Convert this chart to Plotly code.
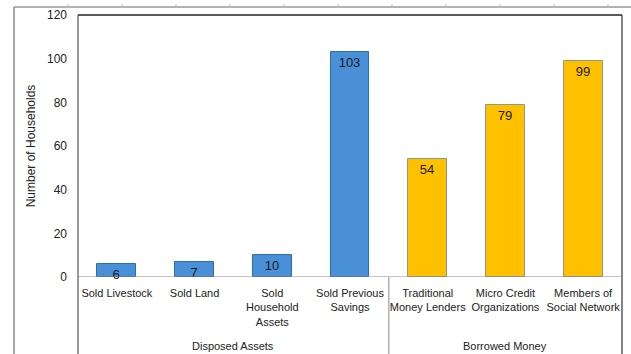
import plotly.graph_objects as go

categories = ["Sold Livestock", "Sold Land", "Sold<br>Household<br>Assets", "Sold Previous<br>Savings",
              "Traditional<br>Money Lenders", "Micro Credit<br>Organizations", "Members of<br>Social Network"]
values = [6, 7, 10, 103, 54, 79, 99]
groups = ["Disposed Assets", "Borrowed Money"]
group_sizes = [4, 3]
y_ticks = [0, 20, 40, 60, 80, 100, 120]

W, H = 631, 354
L, R, T, B = 78, 9, 15, 77
ph = H - T - B

colors = ["#4A90D9"] * group_sizes[0] + ["#FFC000"] * group_sizes[1]
lines = ["#2E6FA8"] * group_sizes[0] + ["#8A9A8A"] * group_sizes[1]
xs = list(range(len(values)))

fig = go.Figure(go.Bar(
    x=xs, y=values, width=0.5,
    marker=dict(color=colors, line=dict(color=lines, width=1)),
    text=[str(v) for v in values], textposition="inside", insidetextanchor="end",
    textangle=0, constraintext="none",
    textfont=dict(family="Liberation Sans, Arial", size=13, color="#1a1a1a"),
    cliponaxis=False,
))

font = dict(family="Liberation Sans, Arial", size=11, color="#222")
fig.update_layout(
    width=W, height=H, margin=dict(l=L, r=R, t=T, b=B),
    paper_bgcolor="white", plot_bgcolor="white", showlegend=False,
    font=font, bargap=0, uniformtext=dict(mode=False),
    xaxis=dict(range=[-0.5, len(values) - 0.5], tickvals=xs, ticktext=categories,
               showgrid=False, zeroline=False, showline=False, ticks="", ticklabelstandoff=8,
               tickfont=font, fixedrange=True),
    yaxis=dict(range=[0, 120], tickvals=y_ticks, showgrid=False, zeroline=False,
               showline=False, ticks="", ticklabelstandoff=10,
               tickfont=dict(family="Liberation Sans, Arial", size=12, color="#222"),
               title=dict(text="Number of Households", font=dict(family="Liberation Sans, Arial", size=12, color="#222"), standoff=8),
               fixedrange=True),
)

shapes = []
shapes.append(dict(type="line", xref="paper", yref="paper", x0=0, x1=1, y0=1, y1=1, line=dict(color="#222", width=1.5)))
shapes.append(dict(type="line", xref="paper", yref="paper", x0=0, x1=0, y0=-B / ph, y1=1, line=dict(color="#555", width=1.2)))
shapes.append(dict(type="line", xref="paper", yref="paper", x0=1, x1=1, y0=-B / ph, y1=1, line=dict(color="#333", width=1.2)))
shapes.append(dict(type="line", xref="paper", yref="y", x0=0, x1=1, y0=0, y1=0, line=dict(color="#888", width=1)))
div = group_sizes[0] - 0.5
shapes.append(dict(type="line", xref="x", yref="paper", x0=div, x1=div, y0=-B / ph, y1=0, line=dict(color="#888", width=1)))
shapes.append(dict(type="line", xref="paper", yref="paper", x0=(14 - L) / (W - L - R), x1=(W - L) / (W - L - R),
                   y0=(H - 7 - B) / ph, y1=(H - 7 - B) / ph, line=dict(color="#999", width=1.5)))
shapes.append(dict(type="line", xref="paper", yref="paper", x0=(14 - L) / (W - L - R), x1=(14 - L) / (W - L - R),
                   y0=-B / ph, y1=(H - 7 - B) / ph, line=dict(color="#888", width=1.5)))
for px in range(68, W, 54):
    fx = (px - L) / (W - L - R)
    shapes.append(dict(type="line", xref="paper", yref="paper", x0=fx, x1=fx,
                       y0=(H - 7 - B) / ph, y1=(H - 4 - B) / ph, line=dict(color="#bbb", width=1)))
fig.update_layout(shapes=shapes)

ann = []
start = 0
for g, n in zip(groups, group_sizes):
    cx = start + (n - 1) / 2
    ann.append(dict(x=cx, xref="x", y=-(346 - 277) / ph, yref="paper", text=g, showarrow=False,
                    font=font, yanchor="middle"))
    start += n
fig.update_layout(annotations=ann)

fig.write_html("out.html")
